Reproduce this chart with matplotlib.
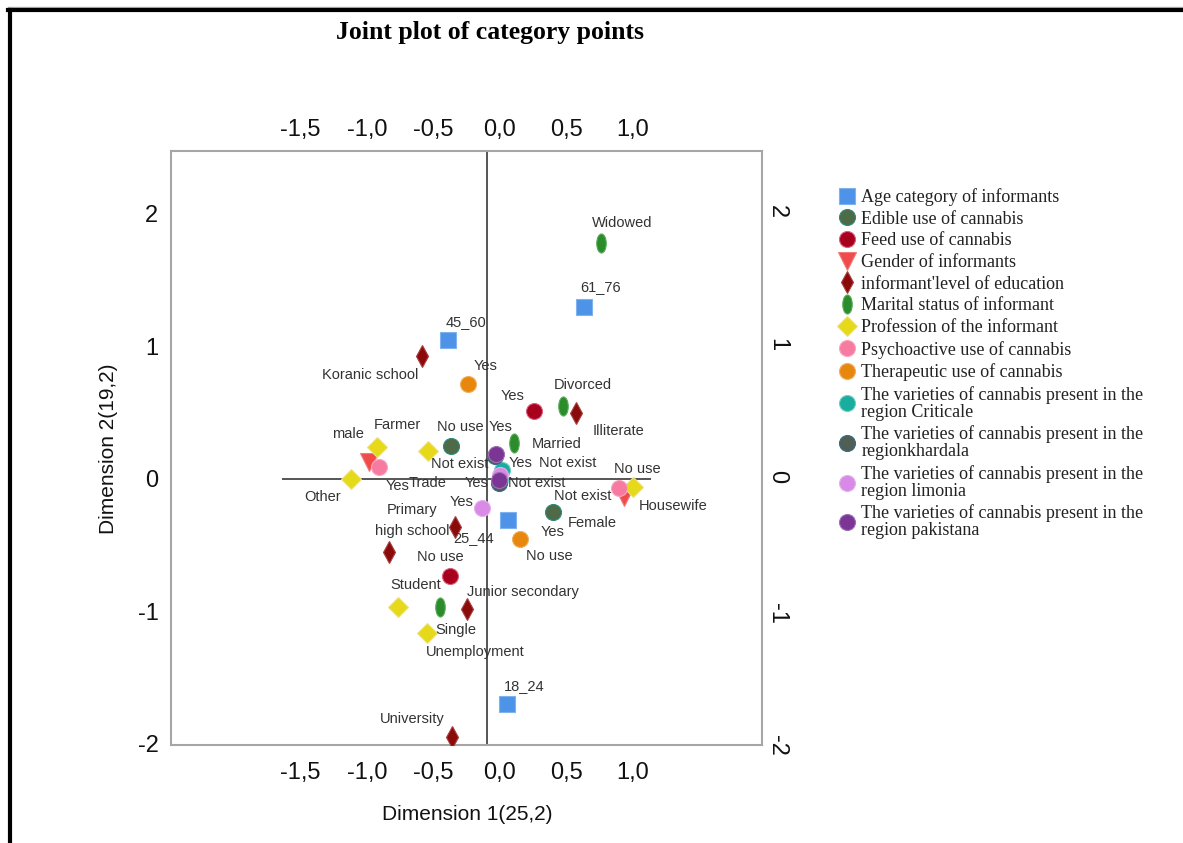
import matplotlib
matplotlib.use("Agg")
import matplotlib.pyplot as plt
from matplotlib.path import Path
from matplotlib.lines import Line2D
from matplotlib.transforms import ScaledTranslation

# category points: Dimension 1 / Dimension 2 coordinates per variable
age_labels = ["45_60", "61_76", "25_44", "18_24"]
age_x = [-0.29, 0.73, 0.16, 0.15]
age_y = [1.05, 1.30, -0.31, -1.70]

edible_labels = ["No use", "Yes"]
edible_x = [-0.27, 0.50]
edible_y = [0.25, -0.25]

feed_labels = ["Yes", "No use"]
feed_x = [0.35, -0.28]
feed_y = [0.51, -0.73]

gender_labels = ["male", "Female"]
gender_x = [-0.89, 1.03]
gender_y = [0.13, -0.14]

edu_labels = ["Koranic school", "Illiterate", "Primary", "high school",
              "Junior secondary", "University"]
edu_x = [-0.49, 0.67, -0.24, -0.74, -0.15, -0.26]
edu_y = [0.93, 0.50, -0.36, -0.55, -0.98, -1.95]

marital_labels = ["Widowed", "Divorced", "Married", "Single"]
marital_x = [0.86, 0.57, 0.20, -0.35]
marital_y = [1.78, 0.55, 0.27, -0.97]

prof_labels = ["Farmer", "Trade", "Other", "Housewife", "Student", "Unemployment"]
prof_x = [-0.83, -0.44, -1.02, 1.10, -0.67, -0.45]
prof_y = [0.24, 0.21, 0.00, -0.06, -0.97, -1.16]

psycho_labels = ["Yes", "No use"]
psycho_x = [-0.81, 0.99]
psycho_y = [0.09, -0.07]

thera_labels = ["Yes", "No use"]
thera_x = [-0.14, 0.25]
thera_y = [0.72, -0.45]

criticale_labels = ["Yes", "Not exist"]
criticale_x = [0.11, 0.10]
criticale_y = [0.07, -0.01]

khardala_labels = ["Not exist", "Yes"]
khardala_x = [0.06, 0.09]
khardala_y = [0.17, -0.03]

limonia_labels = ["Yes", "Not exist"]
limonia_x = [-0.04, 0.10]
limonia_y = [-0.22, 0.03]

pakistana_labels = ["Yes", "Not exist"]
pakistana_x = [0.07, 0.09]
pakistana_y = [0.19, -0.01]

x_ticks = [-1.5, -1.0, -0.5, 0.0, 0.5, 1.0]
y_ticks = [2, 1, 0, -1, -2]

# label offsets in pixels (dx, dy) for each point
age_off = [(18, 18), (17, 20), (-35, -18), (17, 18)]
edible_off = [(9, 19), (-1, -20)]
feed_off = [(-21, 15), (-9, 19)]
gender_off = [(-21, 28), (-32, -26)]
edu_off = [(-52, -19), (42, -18), (-43, 17), (24, 21), (56, 17), (-40, 18)]
marital_off = [(21, 20), (20, 21), (43, -1), (15, -23)]
prof_off = [(21, 22), (-1, -32), (-29, -18), (40, -19), (18, 22), (48, -19)]
psycho_off = [(18, -19), (19, 19)]
thera_off = [(17, 18), (29, -17)]
criticale_off = [(19, 7), (67, 17)]
khardala_off = [(-35, -8), (-22, 0)]
limonia_off = [(-20, 6), (82, -21)]
pakistana_off = [(4, 27), (38, -3)]

circ = Path.unit_circle()
ellipse = Path(circ.vertices * [0.5, 1.0], circ.codes)

series = [
    ("Age category of informants", age_x, age_y, age_labels, age_off,
     dict(marker="s", ms=11, mfc="#4d94e8", mec="#7fb2ee")),
    ("Edible use of cannabis", edible_x, edible_y, edible_labels, edible_off,
     dict(marker="o", ms=11.5, mfc="#4f6a46", mec="#2f8a7c")),
    ("Feed use of cannabis", feed_x, feed_y, feed_labels, feed_off,
     dict(marker="o", ms=11.5, mfc="#a8001c", mec="#d9607e")),
    ("Gender of informants", gender_x, gender_y, gender_labels, gender_off,
     dict(marker="v", ms=12.5, mfc="#f04a4a", mec="#f47a7a")),
    ("informant'level of education", edu_x, edu_y, edu_labels, edu_off,
     dict(marker="d", ms=11, mfc="#8b0a0a", mec="#a84040")),
    ("Marital status of informant", marital_x, marital_y, marital_labels, marital_off,
     dict(marker=ellipse, ms=13.7, mfc="#2b8c2b", mec="#5aaa5a")),
    ("Profession of the informant", prof_x, prof_y, prof_labels, prof_off,
     dict(marker="D", ms=10.5, mfc="#e6d91a", mec="#eee27a")),
    ("Psychoactive use of cannabis", psycho_x, psycho_y, psycho_labels, psycho_off,
     dict(marker="o", ms=11.5, mfc="#f77aa0", mec="#f9a6c0")),
    ("Therapeutic use of cannabis", thera_x, thera_y, thera_labels, thera_off,
     dict(marker="o", ms=11.5, mfc="#e8870e", mec="#f0b060")),
    ("The varieties of cannabis present in the\nregion Criticale",
     criticale_x, criticale_y, criticale_labels, criticale_off,
     dict(marker="o", ms=11.5, mfc="#18ad9c", mec="#70cfc4")),
    ("The varieties of cannabis present in the\nregionkhardala",
     khardala_x, khardala_y, khardala_labels, khardala_off,
     dict(marker="o", ms=11.5, mfc="#4f5f55", mec="#3a6a8a")),
    ("The varieties of cannabis present in the\nregion limonia",
     limonia_x, limonia_y, limonia_labels, limonia_off,
     dict(marker="o", ms=11.5, mfc="#d98ae6", mec="#e6b0ee")),
    ("The varieties of cannabis present in the\nregion pakistana",
     pakistana_x, pakistana_y, pakistana_labels, pakistana_off,
     dict(marker="o", ms=11.5, mfc="#7b3594", mec="#a070b4")),
]

W, H = 1183, 843
fig = plt.figure(figsize=(W / 100, H / 100), dpi=100)
ax = fig.add_axes([171 / W, 1 - 745 / H, 591 / W, 594 / H])
ax.set_xlim(-2.376, 2.068)
ax.set_ylim(-2.008, 2.475)

sans = "Liberation Sans"
serif = "Liberation Serif"

# reference lines through the origin
ax.axvline(0, color="#555555", lw=1.4, zorder=1)
ax.hlines(0, -1.54, 1.23, color="#555555", lw=1.4, zorder=1)

for name, xs, ys, labs, offs, style in series:
    ax.plot(xs, ys, linestyle="none", mew=0.8, label=name, zorder=3, **style)
    for x, y, lab, (dx, dy) in zip(xs, ys, labs, offs):
        ax.annotate(lab, (x, y), xytext=(dx, dy), textcoords="offset pixels",
                    ha="center", va="center", fontsize=10.5, family=sans,
                    color="#333333", zorder=4)

for s in ax.spines.values():
    s.set_color("#a6a6a6")
    s.set_linewidth(1.5)

# axis ticks on all four sides
ax.set_xticks(x_ticks, [f"{v:.1f}".replace(".", ",") for v in x_ticks])
ax.set_yticks(y_ticks, [str(v) for v in y_ticks])
ax.tick_params(axis="x", length=0, pad=12, labelsize=17, labelcolor="#111111")
ax.tick_params(axis="y", length=0, pad=9, labelsize=17, labelcolor="#111111")

top = ax.secondary_xaxis("top")
top.set_xticks(x_ticks, [f"{v:.1f}".replace(".", ",") for v in x_ticks])
top.tick_params(length=0, pad=7, labelsize=17, labelcolor="#111111")
top.spines["top"].set_visible(False)

right = ax.secondary_yaxis("right")
right.set_yticks(y_ticks, [str(v) for v in y_ticks])
right.tick_params(length=0, pad=3, labelsize=17, labelcolor="#111111",
                  labelrotation=-90)
right.spines["right"].set_visible(False)

shift = ScaledTranslation(13 / 100, 0, fig.dpi_scale_trans)
for lbl in ax.get_xticklabels() + top.get_xticklabels():
    lbl.set_transform(lbl.get_transform() + shift)
for lbl in ax.get_xticklabels() + ax.get_yticklabels() + \
        top.get_xticklabels() + right.get_yticklabels():
    lbl.set_family(sans)

fig.text(490 / W, 1 - 32 / H, "Joint plot of category points", ha="center",
         va="center", fontsize=18.5, fontweight="bold", family=serif)
fig.text(467 / W, 1 - 815 / H, "Dimension 1(25,2)", ha="center", va="center",
         fontsize=15, family=sans, color="#111111")
fig.text(108 / W, 1 - 449 / H, "Dimension 2(19,2)", ha="center", va="center",
         fontsize=15, family=sans, color="#111111", rotation=90)

handles, names = ax.get_legend_handles_labels()
leg = fig.legend(handles, names, loc="upper left",
                 bbox_to_anchor=(838 / W, 1 - 188 / H), frameon=False,
                 borderpad=0, borderaxespad=0, handlelength=1.0,
                 handletextpad=0.3, labelspacing=0.26,
                 prop={"family": serif, "size": 13})
for t in leg.get_texts():
    t.set_linespacing(1.0)
    t.set_color("#222222")

# outer border of the output window
fig.add_artist(Line2D([8 / W, 1], [1 - 6.5 / H] * 2, transform=fig.transFigure,
                      color="#b0b0b0", lw=1))
fig.add_artist(Line2D([8 / W, 1], [1 - 9.5 / H] * 2, transform=fig.transFigure,
                      color="black", lw=3))
fig.add_artist(Line2D([10 / W] * 2, [0, 1 - 9.5 / H], transform=fig.transFigure,
                      color="black", lw=3))

fig.savefig("out.png", dpi=100)
